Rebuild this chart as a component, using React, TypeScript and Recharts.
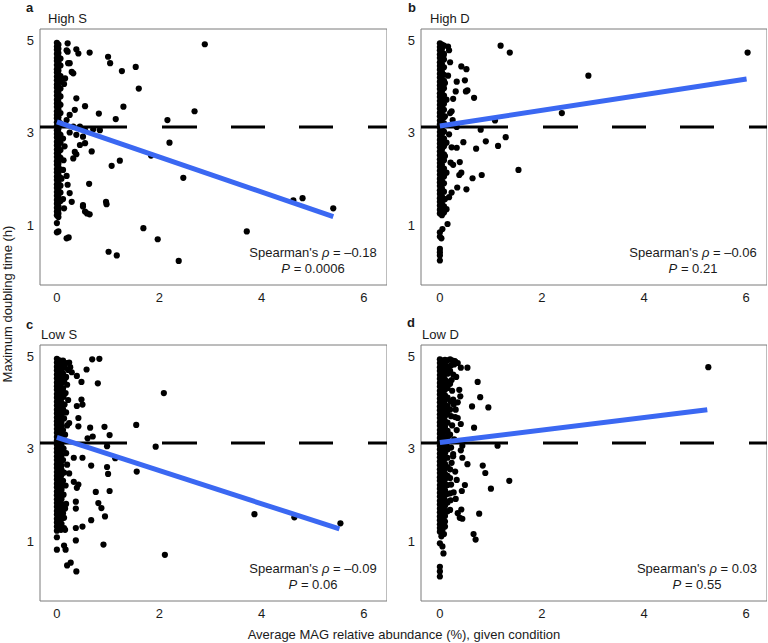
import React from 'react'
import { ScatterChart, Scatter, XAxis, YAxis, ReferenceLine, ReferenceArea } from 'recharts'

type Pt = [number, number]

const FONT = '"Liberation Sans", Arial, Helvetica, sans-serif'
const INK = '#1a1a1a'
const BLUE = '#3b68f2'
const CUTOFF = 3.12
const X_TICKS = [0, 2, 4, 6]
const Y_TICKS = [1, 3, 5]
const Y_DOMAIN: [number, number] = [-0.3, 5.24]

// --- High S ---
const bandXHighS = [0, 0.03, 0.07]
const bandHighS: number[][] = [
  [4.94, 4.86, 4.79, 4.7, 4.61, 4.55, 4.46, 4.37, 4.3, 4.21, 4.13, 4.04, 3.97, 3.88, 3.8, 3.71, 3.63, 3.55, 3.46, 3.38, 3.31, 3.22, 3.14, 3.05, 2.97, 2.89, 2.8, 2.72, 2.63, 2.55, 2.47, 2.38, 2.3, 2.21, 2.14, 2.05, 1.97, 1.88, 1.8, 1.71, 1.63, 1.54, 1.46, 1.37, 1.29, 1.21],
  [4.9, 4.81, 4.72, 4.64, 4.52, 4.43, 4.34, 4.26, 4.17, 4.09, 3.99, 3.92, 3.84, 3.75, 3.66, 3.58, 3.5, 3.41, 3.33, 3.25, 3.17, 3.08, 3.0, 2.92, 2.83, 2.75, 2.66, 2.58, 2.5, 2.41, 2.33, 2.25, 2.17, 2.09, 2.0, 1.92, 1.84, 1.75, 1.67, 1.58, 1.5, 1.41, 1.33, 1.25, 1.17],
  [4.6, 4.45, 4.22, 4.1, 3.95, 3.78, 3.6, 3.42, 3.2, 2.95, 2.78, 2.62, 2.45, 2.2, 2.02, 1.85, 1.7, 1.52],
]
const scatterHighS: Pt[] = [
  [2.89, 4.91], [0.64, 4.73], [1.0, 4.64], [1.04, 4.5], [1.27, 4.33], [1.54, 4.42], [1.6, 3.95], [1.3, 3.56],
  [1.15, 3.29], [0.82, 3.41], [0.55, 3.57], [2.69, 3.46], [2.16, 3.27], [2.2, 2.78], [1.84, 2.5], [1.23, 2.39],
  [1.07, 2.28], [2.47, 2.02], [0.68, 2.59], [0.63, 1.89], [0.51, 1.4], [0.59, 1.25], [0.96, 1.5], [0.97, 1.45],
  [1.69, 0.93], [1.97, 0.69], [2.38, 0.22], [1.01, 0.42], [1.17, 0.34], [3.71, 0.86], [4.62, 1.53], [4.8, 1.58],
  [5.4, 1.36], [0.21, 4.93], [0.38, 4.8], [0.42, 4.71], [0.21, 4.75], [0.25, 4.5], [0.29, 4.31], [0.32, 4.28],
  [0.16, 4.17], [0.14, 4.05], [0.38, 3.74], [0.35, 3.49], [0.25, 3.38], [0.19, 3.27], [0.32, 3.13], [0.45, 3.13],
  [0.55, 3.05], [0.71, 3.07], [0.84, 3.05], [0.25, 3.0], [0.38, 2.95], [0.51, 2.91], [0.12, 2.87], [0.55, 2.77],
  [0.45, 2.73], [0.15, 2.7], [0.35, 2.58], [0.38, 2.53], [0.32, 2.44], [0.13, 2.4], [0.12, 2.19], [0.19, 2.06],
  [0.09, 2.0], [0.21, 1.87], [0.25, 1.69], [0.12, 1.56], [0.29, 1.5], [0.14, 1.36], [0.51, 1.43], [0.55, 1.29],
  [0.64, 1.23], [0.03, 0.86], [0.0, 1.04], [0.19, 0.71], [0.23, 0.73], [0.0, 0.84], [0.22, 4.5], [0.19, 4.78],
]
const fitHighS = [{ x: 0, y: 3.23 }, { x: 5.4, y: 1.18 }]

// --- High D ---
const bandXHighD = [0, 0.04, 0.08]
const bandHighD: number[][] = [
  [4.93, 4.85, 4.78, 4.69, 4.61, 4.52, 4.44, 4.36, 4.27, 4.19, 4.1, 4.02, 3.94, 3.85, 3.77, 3.68, 3.6, 3.52, 3.43, 3.35, 3.26, 3.18, 3.1, 3.01, 2.93, 2.84, 2.76, 2.68, 2.59, 2.51, 2.42, 2.34, 2.26, 2.17, 2.09, 2.0, 1.92, 1.84, 1.75, 1.67, 1.58, 1.5, 1.42, 1.33, 1.25],
  [4.9, 4.81, 4.73, 4.65, 4.56, 4.48, 4.4, 4.31, 4.23, 4.14, 4.06, 3.98, 3.89, 3.81, 3.72, 3.64, 3.56, 3.47, 3.39, 3.3, 3.22, 3.14, 3.05, 2.97, 2.88, 2.8, 2.72, 2.63, 2.55, 2.46, 2.38, 2.3, 2.21, 2.13, 2.04, 1.96, 1.88, 1.79, 1.71, 1.62, 1.54, 1.46, 1.37, 1.29, 1.21],
  [4.88, 4.7, 4.58, 4.41, 4.25, 4.12, 3.96, 3.8, 3.62, 3.49, 3.33, 3.2, 3.02, 2.87, 2.7, 2.53, 2.4, 2.22, 2.05, 1.9, 1.72, 1.55, 1.4],
]
const scatterHighD: Pt[] = [
  [1.19, 4.88], [1.37, 4.73], [6.03, 4.73], [2.91, 4.23], [2.39, 3.42], [1.54, 2.19], [1.29, 2.9], [1.14, 2.71],
  [0.9, 2.81], [0.82, 2.08], [0.8, 3.06], [0.71, 2.65], [0.64, 2.01], [0.67, 3.75], [0.52, 1.77], [0.34, 1.81],
  [0.46, 2.79], [0.42, 2.13], [0.38, 2.08], [0.39, 2.36], [0.23, 1.7], [0.18, 1.6], [0.33, 2.67], [0.23, 2.68],
  [0.21, 2.35], [0.26, 2.3], [0.07, 2.08], [0.16, 4.86], [0.2, 4.52], [0.07, 4.66], [0.42, 4.43], [0.52, 4.37],
  [0.33, 4.1], [0.49, 4.13], [0.54, 3.91], [0.51, 3.89], [0.31, 3.89], [0.26, 3.73], [0.16, 4.23], [0.2, 3.42],
  [0.23, 3.46], [0.25, 3.27], [0.33, 3.12], [0.18, 2.96], [1.08, 3.26], [0.15, 1.02], [0.07, 1.34], [0.08, 1.27],
  [0.05, 0.91], [0.0, 0.84], [0.03, 0.71], [0.0, 0.75], [0.0, 0.48], [0.0, 0.41], [0.0, 0.23], [0.0, 0.34],
  [0.1, 4.07], [0.13, 3.71], [0.1, 3.35], [0.13, 2.78], [0.1, 2.49], [0.13, 2.13], [0.1, 1.56], [0.13, 1.34],
  [0.18, 4.78],
]
const fitHighD = [{ x: 0, y: 3.14 }, { x: 6.01, y: 4.16 }]

// --- Low S ---
const bandXLowS = [0, 0.05, 0.09]
const bandLowS: number[][] = [
  [4.94, 4.86, 4.77, 4.69, 4.6, 4.52, 4.43, 4.35, 4.27, 4.18, 4.1, 4.01, 3.93, 3.84, 3.76, 3.67, 3.59, 3.51, 3.42, 3.34, 3.25, 3.17, 3.08, 3.0, 2.92, 2.83, 2.75, 2.66, 2.58, 2.49, 2.41, 2.33, 2.24, 2.16, 2.07, 1.99, 1.9, 1.82, 1.74, 1.65, 1.57, 1.48, 1.4, 1.31, 1.22],
  [4.91, 4.82, 4.74, 4.65, 4.57, 4.48, 4.4, 4.31, 4.23, 4.14, 4.06, 3.97, 3.89, 3.8, 3.72, 3.63, 3.55, 3.46, 3.38, 3.29, 3.21, 3.12, 3.04, 2.95, 2.87, 2.78, 2.7, 2.61, 2.53, 2.44, 2.36, 2.27, 2.19, 2.1, 2.02, 1.93, 1.85, 1.76, 1.68, 1.59, 1.51, 1.42, 1.34, 1.26],
  [4.89, 4.79, 4.71, 4.62, 4.5, 4.41, 4.3, 4.2, 4.09, 3.99, 3.9, 3.79, 3.7, 3.58, 3.48, 3.37, 3.27, 3.16, 3.05, 2.96, 2.85, 2.74, 2.63, 2.54, 2.43, 2.32, 2.22, 2.11, 2.0, 1.91, 1.8, 1.7, 1.59, 1.48, 1.37],
]
const scatterLowS: Pt[] = [
  [0.69, 4.93], [0.83, 4.94], [0.58, 4.71], [0.8, 4.41], [2.09, 4.2], [0.48, 4.44], [0.39, 4.57], [0.24, 4.86],
  [0.26, 4.76], [0.29, 4.65], [0.17, 4.53], [0.48, 4.06], [0.5, 3.95], [0.39, 3.92], [0.42, 3.66], [0.24, 3.55],
  [0.42, 3.48], [0.65, 3.45], [0.93, 3.47], [1.55, 3.51], [0.7, 3.26], [0.6, 3.22], [1.03, 3.29], [0.98, 3.05],
  [1.93, 3.04], [1.14, 2.79], [1.56, 2.5], [0.5, 2.8], [0.33, 2.8], [0.67, 2.63], [0.98, 2.6], [1.0, 2.45],
  [0.24, 2.46], [0.33, 2.28], [0.39, 2.15], [0.42, 2.22], [1.03, 2.08], [0.76, 2.06], [0.81, 1.82], [0.87, 1.71],
  [0.94, 1.53], [0.67, 1.45], [0.37, 1.85], [0.37, 1.7], [0.37, 1.28], [0.5, 1.31], [0.16, 1.7], [0.14, 1.28],
  [0.0, 1.08], [0.14, 0.9], [0.17, 0.81], [0.37, 1.01], [0.91, 0.92], [2.11, 0.7], [0.2, 0.47], [0.27, 0.53],
  [0.38, 0.34], [0.0, 0.81], [3.86, 1.58], [4.64, 1.51], [5.54, 1.38],
  [0.12, 4.9], [0.18, 4.85], [0.15, 4.75], [0.22, 4.7], [0.12, 4.62], [0.18, 4.55], [0.14, 4.45], [0.2, 4.38],
  [0.12, 4.3], [0.17, 4.2], [0.13, 4.12], [0.22, 4.05], [0.15, 3.95], [0.12, 3.85], [0.18, 3.78], [0.14, 3.65],
  [0.2, 3.5], [0.12, 3.4], [0.16, 3.3], [0.13, 3.0], [0.18, 2.9], [0.12, 2.75], [0.2, 2.65], [0.14, 2.48],
  [0.12, 2.3], [0.17, 2.2], [0.13, 2.0], [0.18, 1.8], [0.12, 1.6], [0.14, 1.5], [0.08, 1.24], [0.16, 1.24],
]
const fitLowS = [{ x: 0, y: 3.24 }, { x: 5.52, y: 1.26 }]

// --- Low D ---
const bandXLowD = [0, 0.05, 0.1, 0.15]
const bandLowD: number[][] = [
  [4.93, 4.85, 4.76, 4.68, 4.59, 4.51, 4.42, 4.34, 4.25, 4.17, 4.08, 4.0, 3.91, 3.83, 3.74, 3.66, 3.57, 3.49, 3.4, 3.32, 3.23, 3.15, 3.06, 2.98, 2.89, 2.81, 2.72, 2.64, 2.55, 2.47, 2.38, 2.3, 2.21, 2.13, 2.04, 1.96, 1.87, 1.79, 1.7, 1.62, 1.53, 1.45, 1.36, 1.28, 1.2],
  [4.9, 4.81, 4.73, 4.64, 4.56, 4.47, 4.39, 4.3, 4.22, 4.13, 4.05, 3.96, 3.88, 3.79, 3.71, 3.62, 3.54, 3.45, 3.37, 3.28, 3.2, 3.11, 3.03, 2.94, 2.86, 2.77, 2.69, 2.6, 2.52, 2.43, 2.35, 2.26, 2.18, 2.09, 2.01, 1.92, 1.84, 1.75, 1.67, 1.58, 1.5, 1.41, 1.33, 1.24],
  [4.92, 4.82, 4.7, 4.61, 4.49, 4.38, 4.27, 4.15, 4.04, 3.93, 3.82, 3.7, 3.59, 3.47, 3.36, 3.24, 3.13, 3.02, 2.9, 2.79, 2.67, 2.56, 2.45, 2.33, 2.22, 2.1, 1.99, 1.88, 1.76, 1.65, 1.54, 1.42, 1.31],
  [4.91, 4.78, 4.62, 4.45, 4.31, 4.1, 3.92, 3.75, 3.56, 3.38, 3.18, 2.98, 2.8, 2.6, 2.41, 2.21, 2.02, 1.83, 1.64],
]
const scatterLowD: Pt[] = [
  [5.26, 4.76], [0.41, 4.75], [0.54, 4.75], [0.74, 4.44], [0.79, 4.11], [0.95, 3.89], [0.63, 3.91], [0.67, 3.45],
  [1.13, 3.06], [1.36, 2.3], [1.0, 2.13], [0.89, 2.47], [0.84, 2.63], [0.77, 1.59], [0.66, 1.15], [0.7, 1.03],
  [0.44, 3.06], [0.41, 2.96], [0.44, 2.8], [0.54, 2.66], [0.49, 2.21], [0.43, 2.08], [0.31, 1.91], [0.42, 1.68],
  [0.35, 1.6], [0.39, 1.5], [0.44, 1.48], [0.38, 4.27], [0.4, 4.13], [0.31, 3.84], [0.35, 3.66], [0.41, 3.53],
  [0.29, 4.89], [0.23, 4.48], [0.26, 4.06], [0.2, 3.84], [0.16, 3.26], [0.33, 2.32], [0.2, 2.36], [0.2, 2.03],
  [0.2, 1.67], [0.13, 3.08], [0.26, 2.83], [0.23, 2.69], [0.07, 0.73], [0.0, 0.95], [0.05, 0.88], [0.0, 0.44],
  [0.0, 0.34], [0.0, 0.23], [0.03, 1.1], [0.08, 1.15],
  [0.2, 4.93], [0.25, 4.9], [0.3, 4.88], [0.22, 4.8], [0.28, 4.82], [0.35, 4.85], [0.2, 4.68], [0.26, 4.6],
  [0.2, 4.4], [0.24, 4.25], [0.21, 4.02], [0.27, 3.95], [0.22, 3.7], [0.3, 3.68], [0.24, 3.5], [0.2, 3.3],
  [0.28, 3.2], [0.22, 3.02], [0.26, 2.88], [0.2, 2.55], [0.3, 2.5], [0.22, 2.22], [0.27, 2.05], [0.21, 1.88],
  [0.33, 3.4], [0.35, 4.0], [0.32, 4.55],
]
const fitLowD = [{ x: 0, y: 3.13 }, { x: 5.24, y: 3.84 }]

function toPoints(bandX: number[], band: number[][], extra: Pt[]) {
  const pts: { x: number; y: number }[] = []
  band.forEach((col, i) => col.forEach(y => pts.push({ x: bandX[i], y })))
  extra.forEach(([x, y]) => pts.push({ x, y }))
  return pts
}

const Dot = (p: any) => <circle cx={p.cx} cy={p.cy} r={3.1} fill="#000" />

const tickStyle = { fontSize: 13, fill: INK, fontFamily: FONT }

function Panel({ left, top, width, xDomain, points, fit }: any) {
  return (
    <div style={{ position: 'absolute', left, top }}>
      <ScatterChart width={width} height={310} margin={{ top: 29, right: 0, bottom: 0, left: 0 }}>
        <XAxis type="number" dataKey="x" domain={xDomain} ticks={X_TICKS} allowDataOverflow
          axisLine={false} tickLine={false} height={25} tick={tickStyle} />
        <YAxis type="number" dataKey="y" domain={Y_DOMAIN} ticks={Y_TICKS} allowDataOverflow
          axisLine={false} tickLine={false} width={40} tickMargin={0} tick={tickStyle} />
        <Scatter data={points} isAnimationActive={false} shape={Dot} />
        <ReferenceLine y={CUTOFF} stroke="#000" strokeWidth={3} zIndex={700}
          strokeDasharray="87 35 35 34 34 34 34 35 35 35 35 35" />
        <ReferenceLine segment={fit} stroke={BLUE} strokeWidth={5} zIndex={800} />
        <ReferenceArea x1={xDomain[0]} x2={xDomain[1]} y1={Y_DOMAIN[0]} y2={Y_DOMAIN[1]}
          fill="none" stroke="#7a7a7a" strokeWidth={1} />
      </ScatterChart>
    </div>
  )
}

function Stat({ cx, cy, rho, p }: any) {
  return (
    <g fontFamily={FONT} fontSize={13} fill={INK} textAnchor="middle">
      <text x={cx} y={cy + 4.5}>Spearman's <tspan fontStyle="italic">ρ</tspan> = {rho}</text>
      <text x={cx} y={cy + 21}><tspan fontStyle="italic">P</tspan> = {p}</text>
    </g>
  )
}

export default function App() {
  return (
    <div style={{ position: 'absolute', left: 0, top: 0, width: 768, height: 643, background: '#fff' }}>
      <Panel left={0} top={0} width={387} xDomain={[-0.33, 6.45]} points={toPoints(bandXHighS, bandHighS, scatterHighS)} fit={fitHighS} />
      <Panel left={381} top={0} width={386} xDomain={[-0.37, 6.41]} points={toPoints(bandXHighD, bandHighD, scatterHighD)} fit={fitHighD} />
      <Panel left={0} top={316} width={387} xDomain={[-0.33, 6.45]} points={toPoints(bandXLowS, bandLowS, scatterLowS)} fit={fitLowS} />
      <Panel left={381} top={316} width={386} xDomain={[-0.37, 6.41]} points={toPoints(bandXLowD, bandLowD, scatterLowD)} fit={fitLowD} />
      <svg width={768} height={643} style={{ position: 'absolute', left: 0, top: 0, pointerEvents: 'none' }}>
        <g fontFamily={FONT} fill={INK}>
          <text x={26} y={12} fontSize={13} fontWeight="bold">a</text>
          <text x={48} y={22.5} fontSize={13}>High S</text>
          <text x={408} y={12} fontSize={13} fontWeight="bold">b</text>
          <text x={430} y={22.5} fontSize={13}>High D</text>
          <text x={26} y={329} fontSize={13} fontWeight="bold">c</text>
          <text x={41} y={339} fontSize={13}>Low S</text>
          <text x={407} y={327} fontSize={13} fontWeight="bold">d</text>
          <text x={422} y={339} fontSize={13}>Low D</text>
          <text x={404} y={639} fontSize={13} textAnchor="middle">Average MAG relative abundance (%), given condition</text>
          <text x={12} y={304} fontSize={13} textAnchor="middle" transform="rotate(-90 12 304)">Maximum doubling time (h)</text>
        </g>
        <Stat cx={313} cy={252} rho="–0.18" p="0.0006" />
        <Stat cx={693} cy={252} rho="–0.06" p="0.21" />
        <Stat cx={313} cy={568} rho="–0.09" p="0.06" />
        <Stat cx={697} cy={568} rho="0.03" p="0.55" />
      </svg>
    </div>
  )
}
